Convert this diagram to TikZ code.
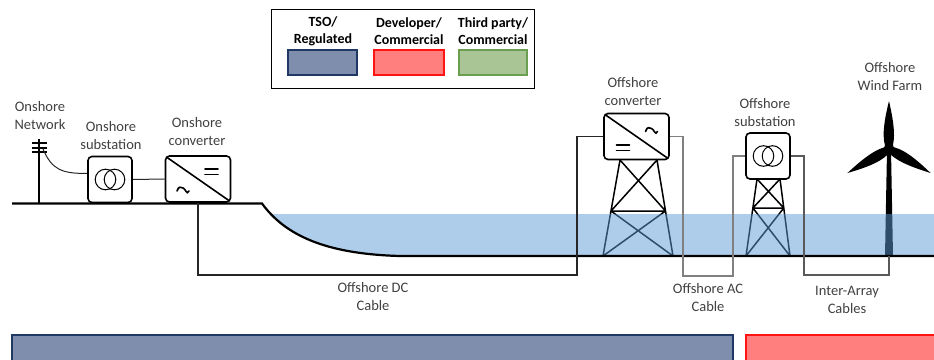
\documentclass[tikz,border=0pt]{standalone}
\usepackage{fontspec}
\setmainfont{Carlito}
\usetikzlibrary{calc}

\definecolor{labelc}{RGB}{64,64,64}
\definecolor{waterc}{RGB}{91,155,213}
\definecolor{tsofill}{RGB}{127,142,173}
\definecolor{tsoline}{RGB}{31,56,100}
\definecolor{devfill}{RGB}{255,127,127}
\definecolor{devline}{RGB}{255,20,20}
\definecolor{tpfill}{RGB}{169,196,149}
\definecolor{tpline}{RGB}{106,158,80}
\definecolor{accable}{RGB}{128,128,128}
\definecolor{iacable}{RGB}{89,89,89}

\tikzset{
  lbl/.style={font=\fontsize{14.5}{18}\selectfont, text=labelc, align=center, inner sep=0pt},
  keytext/.style={font=\fontsize{14}{17}\selectfont\bfseries, align=center, inner sep=0pt},
  swatch/.style={line width=1.3pt},
  unitbox/.style={draw, fill=white, line width=1.6pt, rounded corners=4pt, inner sep=0pt},
  convbox/.style={unitbox, minimum width=65pt, minimum height=46pt},
  subbox/.style={unitbox, minimum width=44pt, minimum height=46pt},
  tower/.style={line width=1.5pt, line join=round},
  symbol/.style={line width=1.6pt, line cap=round},
  ground/.style={line width=2.2pt},
  dccable/.style={line width=1.3pt, black!85},
  accablestyle/.style={line width=1.2pt, accable},
  iacablestyle/.style={line width=1.2pt, iacable},
  wire/.style={line width=1pt, black!85},
}

\begin{document}
\begin{tikzpicture}[x=1pt,y=-1pt]
\useasboundingbox (0,0) rectangle (934,359);
\clip (0,0) rectangle (934,359);

% ---------- key ----------
\node[draw, line width=1pt, minimum width=263pt, minimum height=79pt, inner sep=0pt] (key) at (402.5,48.5) {};
\node[keytext] (keytso) at (323,31) {TSO/\\Regulated};
\node[keytext] (keydev) at (409,31) {Developer/\\Commercial};
\node[keytext] (keytp) at (493,31) {Third party/\\Commercial};
\draw[swatch, draw=tsoline, fill=tsofill] (288,50) rectangle (357,75);
\draw[swatch, draw=devline, fill=devfill] (374,50) rectangle (444,75);
\draw[swatch, draw=tpline, fill=tpfill] (459,50) rectangle (527,75);

% ---------- offshore jacket structures ----------
% converter platform
\draw[tower] (620,160) -- (603,256) (657,160) -- (673,256)
  (620,160) -- (665.5,211) (657,160) -- (611,211)
  (611,211) -- (665.5,211)
  (611,211) -- (673,256) (665.5,211) -- (603,256);
% substation platform
\draw[tower] (757,179) -- (746,256) (780,179) -- (790,256)
  (757,179) -- (783.8,208) (780,179) -- (752.9,208)
  (752.9,208) -- (783.8,208)
  (752.9,208) -- (790,256) (783.8,208) -- (746,256);

% ---------- wind turbine ----------
\fill (885,256) -- (893,256) -- (891,150) -- (887,150) -- cycle;
\foreach \ang in {90,210,330}
  \fill[shift={(889,149)}, rotate=\ang]
    (0,-2.8) .. controls (10,-7) and (24,-6) .. (48,0)
             .. controls (24,5.5) and (10,6.5) .. (0,2.8) -- cycle;
\fill (889,149) circle (5.5);

% ---------- sea ----------
\begin{scope}
  \clip (262,204) .. controls (285,235) and (325,254) .. (400,256)
        -- (940,256) -- (940,100) -- (262,100) -- cycle;
  \fill[waterc, opacity=0.5] (250,213.5) rectangle (940,256.5);
\end{scope}

% ---------- ground / seabed ----------
\draw[ground] (12,203.5) -- (262,203.5)
  .. controls (285,235) and (325,254) .. (400,256) -- (940,256);

% ---------- onshore network pole ----------
\draw[line width=2.6pt] (39,139) -- (39,204);
\draw[line width=2pt] (32,143) -- (47,143) (32,147.5) -- (47,147.5) (32,152) -- (47,152);
\coordinate (poletap) at (43,149);

% ---------- converter and substation units ----------
\node[subbox] (onsub) at (110,179.5) {};
\node[convbox] (onconv) at (198,179) {};
\node[convbox] (offconv) at (636.5,136.5) {};
\node[subbox] (offsub) at (768,156) {};

% transformer symbols
\foreach \u in {onsub,offsub} {
  \draw[line width=1pt] ($(\u.center)+(-4.5,0)$) circle (10.3);
  \draw[line width=1pt] ($(\u.center)+(4.5,0)$) circle (10.3);
}

% converter symbols: diagonal, = and ~
\draw[line width=1.6pt] ($(onconv.north west)+(2,2)$) -- ($(onconv.south east)+(-2,-2)$);
\draw[symbol] ($(onconv.center)+(7,-10)$) -- ++(13,0) ($(onconv.center)+(7,-4.5)$) -- ++(13,0);
\draw[symbol] ($(onconv.center)+(-21,12)$) .. controls +(2,-6) and +(-2,0) .. ++(6,-3)
  .. controls +(2,0) and +(-2,5) .. ++(6,3);

\draw[line width=1.6pt] ($(offconv.north west)+(2,2)$) -- ($(offconv.south east)+(-2,-2)$);
\draw[symbol] ($(offconv.center)+(-20,8.5)$) -- ++(13,0) ($(offconv.center)+(-20,14)$) -- ++(13,0);
\draw[symbol] ($(offconv.center)+(9,-5)$) .. controls +(2,-6) and +(-2,0) .. ++(6,-3)
  .. controls +(2,0) and +(-2,5) .. ++(6,3);

% ---------- connections ----------
\draw[wire] (poletap) .. controls (52,170) and (62,173.5) .. ($(onsub.west)+(0,-6)$);
\draw[wire] (onsub.east) -- (onconv.west);

\coordinate (dcturn) at (577,275);
\draw[dccable] (onconv.south) |- (dcturn) |- (offconv.west);

\coordinate (acturnA) at (683,276);
\coordinate (acturnB) at (733,276);
\draw[accablestyle] (offconv.east) -| (acturnA) -- (acturnB) |- (offsub.west);

\coordinate (iaturn) at (804,275);
\coordinate (turbinebase) at (889,256);
\draw[iacablestyle] (offsub.east) -| (iaturn) -| (turbinebase);

% ---------- labels ----------
\node[lbl] (lnet) at (40,116) {Onshore\\Network};
\node[lbl] (lonsub) at (111,136) {Onshore\\substation};
\node[lbl] (lonconv) at (197,132) {Onshore\\converter};
\node[lbl] (loffconv) at (633,92) {Offshore\\converter};
\node[lbl] (loffsub) at (765,113) {Offshore\\substation};
\node[lbl] (lwind) at (890,77) {Offshore\\Wind Farm};
\node[lbl] (ldc) at (373,297) {Offshore DC\\Cable};
\node[lbl] (lac) at (708,298) {Offshore AC\\Cable};
\node[lbl] (lia) at (847,300) {Inter-Array\\Cables};

% ---------- responsibility bars ----------
\draw[swatch, draw=tsoline, fill=tsofill] (12,335) rectangle (733,372);
\draw[swatch, draw=devline, fill=devfill] (746,335) rectangle (950,372);
\end{tikzpicture}
\end{document}
